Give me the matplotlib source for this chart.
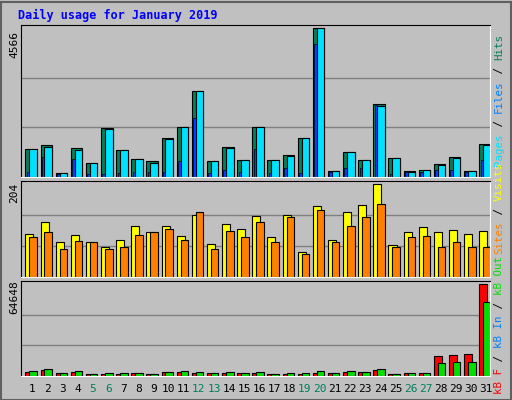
import matplotlib
matplotlib.use("Agg")
import matplotlib.pyplot as plt
from matplotlib.patches import Rectangle

days = list(range(1, 32))
weekend = [5, 6, 12, 13, 19, 20, 26, 27]

hits_y = [388,376,457,384,427,325,391,418,424,355,322,216,424,382,421,322,421,406,355,28,451,397,421,253,415,451,448,430,412,451,373]
files_y = [388,382,457,391,427,328,391,418,427,358,322,216,424,385,421,322,421,409,355,28,451,397,421,259,415,454,448,433,415,451,376]
pages_y = [454,412,460,418,460,460,457,454,454,454,424,295,457,448,454,388,457,442,457,76,454,442,442,256,460,454,454,448,448,454,421]
hits = [round((470 - v) * 4566 / 442) for v in hits_y]
files = [round((470 - v) * 4566 / 442) for v in files_y]
pages = [round((470 - v) * 4566 / 442) for v in pages_y]

visits_y = [640,604,667,643,667,682,658,616,634,616,646,583,670,610,625,586,649,583,694,556,658,574,553,492,673,637,622,637,628,640,631]
sites_y = [649,634,685,661,667,685,682,643,637,625,658,577,685,631,652,607,664,589,700,568,667,616,589,550,682,652,646,682,664,679,679]
visits = [round((770 - v) * 204 / 278) for v in visits_y]
sites = [round((770 - v) * 204 / 278) for v in sites_y]

kbf_y = [289,283,293,289,295,295,295,293,295,289,289,293,293,293,293,293,295,295,295,293,293,289,289,283,295,293,293,243,238,235,28]
kbo_y = [286,280,293,286,295,293,293,293,295,289,286,289,293,289,293,289,295,293,293,286,293,286,289,280,295,293,293,262,259,259,82]
kbf = [round((302 - v) * 64648 / 274) for v in kbf_y]
kbout = [round((302 - v) * 64648 / 274) for v in kbo_y]

BG = "#c0c0c0"
fig = plt.figure(figsize=(5.12, 4.0), dpi=100, facecolor=BG)
W, H = 512, 400
mono = "DejaVu Sans Mono"

def ax_at(y0, y1):
    ax = fig.add_axes([21 / W, 1 - y1 / H, 469 / W, (y1 - y0) / H])
    ax.set_facecolor(BG)
    ax.set_xlim(0, 31)
    ax.set_xticks([]); ax.set_yticks([])
    for s in ["top", "left"]:
        ax.spines[s].set_color("black")
    for s in ["bottom", "right"]:
        ax.spines[s].set_color("white")
    return ax

x0 = [d - 1 for d in days]
ek = dict(edgecolor="black", linewidth=0.8)

a1 = ax_at(25, 177)
a1.set_ylim(0, 4566 * 1.02)
for g in (4566 / 3, 4566 * 2 / 3):
    a1.axhline(g, color="#808080", lw=1, zorder=0)
a1.bar([x + 0.29 for x in x0], hits, width=0.76, align="edge", color="#00805c", **ek)
a1.bar([x + 0.55 for x in x0], files, width=0.50, align="edge", color="#00e0ff", **ek)
a1.bar([x + 0.38 for x in x0], pages, width=0.17, align="edge", color="#0040ff", edgecolor="black", linewidth=0.5)

a2 = ax_at(181, 277)
a2.set_ylim(0, 204 * 1.035)
for g in (204 / 3, 204 * 2 / 3):
    a2.axhline(g, color="#808080", lw=1, zorder=0)
a2.bar([x + 0.29 for x in x0], visits, width=0.53, align="edge", color="#ffff00", **ek)
a2.bar([x + 0.55 for x in x0], sites, width=0.50, align="edge", color="#ff8000", **ek)

a3 = ax_at(281, 376)
a3.set_ylim(0, 64648 * 1.035)
for g in (64648 / 3, 64648 * 2 / 3):
    a3.axhline(g, color="#808080", lw=1, zorder=0)
a3.bar([x + 0.29 for x in x0], kbf, width=0.53, align="edge", color="#ff0000", **ek)
a3.bar([x + 0.55 for x in x0], kbout, width=0.50, align="edge", color="#00e000", **ek)

for d in days:
    fig.text((21 + (d - 1) * 469 / 31 + 11.5) / W, 1 - 389 / H, str(d), ha="center", va="center",
             fontsize=8, family=mono, color="#00805c" if d in weekend else "black")

fig.text(18 / W, 1 - 15 / H, "Daily usage for January 2019", fontsize=8.5, family=mono,
         fontweight="bold", color="#0000ff", va="center")

for txt, yc in (("4566", 45), ("204", 193), ("64648", 297)):
    fig.text(14 / W, 1 - yc / H, txt, rotation=90, fontsize=8, family=mono, ha="center", va="center")

def vlabel(parts, ybottom, cw=6.6):
    y = ybottom
    for t, c in parts:
        fig.text(499 / W, 1 - y / H, t, rotation=90, fontsize=7.8, family=mono, color=c,
                 ha="center", va="bottom")
        y -= cw * len(t)

vlabel([("Pages", "#00e0ff"), (" / ", "black"), ("Files", "#0080ff"), (" / ", "black"), ("Hits", "#00805c")], 166)
vlabel([("Sites", "#ff8000"), (" / ", "black"), ("Visits", "#ffff00")], 254)
vlabel([("kB F", "#ff0000"), (" / ", "black"), ("kB In", "#0080ff"), (" / ", "black"), ("kB Out", "#00e000")], 394)

fig.add_artist(Rectangle((0.5 / W, 0.5 / H), 510 / W, 398 / H, transform=fig.transFigure,
                         fill=False, edgecolor="#606060", lw=1.5))
fig.savefig("out.png", dpi=100, facecolor=BG)
